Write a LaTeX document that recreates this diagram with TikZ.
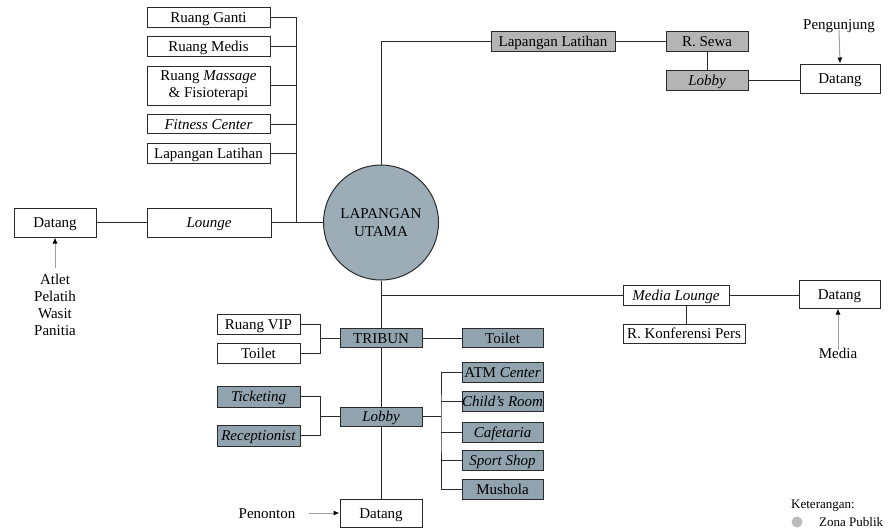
\documentclass[tikz,border=0pt]{standalone}
\usepackage{fontspec}
\setmainfont{Liberation Serif}
\usetikzlibrary{arrows.meta}
\definecolor{grayfill}{HTML}{B4B4B4}
\definecolor{bluefill}{HTML}{90A3AF}
\definecolor{circfill}{HTML}{9CADB8}
\definecolor{legfill}{HTML}{BBBBBB}
\definecolor{linec}{HTML}{2A2A2A}
\tikzset{
  boxbase/.style={draw=linec, line width=1pt, fill=white, inner sep=0pt, align=center,
    font=\fontsize{15}{17}\selectfont},
  box/.style={boxbase, text height=10pt, text depth=0pt},
  gbox/.style={box, fill=grayfill},
  bbox/.style={box, fill=bluefill},
  conn/.style={draw=linec, line width=1pt},
  arr/.style={draw=gray!75, line width=1pt, -{Latex[length=6pt,width=5pt,color=black]}},
  lbl/.style={inner sep=0pt, align=center, font=\fontsize{15}{17}\selectfont},
}
\begin{document}
\begin{tikzpicture}[x=1pt,y=-1pt]
\useasboundingbox (0,0) rectangle (893,531);
% left column
\node[box, minimum width=123, minimum height=20] (ganti) at (208.5,17) {Ruang Ganti};
\node[box, minimum width=123, minimum height=20] (medis) at (208.5,46.5) {Ruang Medis};
\node[boxbase, minimum width=123, minimum height=39] (massage) at (208.5,85.5) {\raisebox{-1.5pt}{Ruang \textit{Massage}}\\[0.5pt]\raisebox{-1.5pt}{\& Fisioterapi}};
\node[box, minimum width=123, minimum height=19] (fitness) at (208.5,124) {\textit{Fitness Center}};
\node[box, minimum width=123, minimum height=20] (laplatL) at (208.5,153) {Lapangan Latihan};
\node[box, minimum width=124, minimum height=29] (lounge) at (209,222.5) {\textit{Lounge}};
\node[box, minimum width=82, minimum height=29] (datangL) at (55,222.5) {Datang};
\node[lbl] (atlet) at (55,304.5) {Atlet\\[0pt]Pelatih\\[0pt]Wasit\\[0pt]Panitia};
\coordinate (atletTop) at (55,268);
% circle
\node[circle, draw=linec, line width=1pt, fill=circfill, minimum size=115, inner sep=0pt, align=center,
  font=\fontsize{15}{18}\selectfont] (main) at (381,222.5) {LAPANGAN\\UTAMA};
% top right
\node[gbox, minimum width=124, minimum height=20] (laplatT) at (553,41) {Lapangan Latihan};
\node[gbox, minimum width=82, minimum height=20] (sewa) at (707,41) {R. Sewa};
\node[gbox, minimum width=82, minimum height=20] (lobbyT) at (707,80) {\textit{Lobby}};
\node[box, minimum width=80, minimum height=29] (datangTR) at (840,78.5) {Datang};
\node[lbl] (pengunjung) at (839,26) {Pengunjung};
% right media
\node[box, minimum width=106, minimum height=20] (mediaL) at (676,295) {\textit{Media Lounge}};
\node[box, minimum width=81, minimum height=28] (datangR) at (839.5,294) {Datang};
\node[box, minimum width=122, minimum height=19] (konf) at (684,333.5) {R. Konferensi Pers};
\node[lbl] (media) at (838,353) {Media};
% tribun area
\node[box, minimum width=83, minimum height=20] (vip) at (258.5,324) {Ruang VIP};
\node[box, minimum width=83, minimum height=20] (toiletL) at (258.5,353) {Toilet};
\node[bbox, minimum width=82, minimum height=19] (tribun) at (381,338) {TRIBUN};
\node[bbox, minimum width=81, minimum height=19] (toiletR) at (502.5,338) {Toilet};
\node[bbox, minimum width=81, minimum height=20] (atm) at (502.5,372.5) {ATM \textit{Center}};
\node[bbox, minimum width=81, minimum height=20] (child) at (502.5,401.5) {\textit{Child's Room}};
\node[bbox, minimum width=81, minimum height=20] (cafe) at (502.5,432) {\textit{Cafetaria}};
\node[bbox, minimum width=81, minimum height=20] (sport) at (502.5,460) {\textit{Sport Shop}};
\node[bbox, minimum width=81, minimum height=20] (mushola) at (502.5,489.5) {Mushola};
\node[bbox, minimum width=82, minimum height=19] (lobbyB) at (381,416.5) {\textit{Lobby}};
\node[bbox, minimum width=83, minimum height=21] (ticket) at (258.5,396.5) {\textit{Ticketing}};
\node[bbox, minimum width=83, minimum height=21] (recep) at (258.5,435.5) {\textit{Receptionist}};
\node[box, minimum width=82, minimum height=28] (datangB) at (381,513) {Datang};
\node[lbl] (penonton) at (267,514) {Penonton};
\coordinate (penR) at (309,513);
% legend
\node[inner sep=0pt, anchor=west, font=\fontsize{13}{15}\selectfont] (ket) at (791,505.5) {Keterangan:};
\node[circle, fill=legfill, minimum size=11, inner sep=0pt] (legdot) at (797,522) {};
\node[inner sep=0pt, anchor=west, font=\fontsize{13}{15}\selectfont] (zona) at (819,522) {Zona Publik};
% junctions
\coordinate (jL) at (296,222.5);
\coordinate (jT) at (320,338);
\coordinate (jLb) at (320,416.5);
\coordinate (jR) at (441,416.5);
% connectors left
\draw[conn] (ganti.east) -| (jL);
\draw[conn] (medis.east) -- (medis.east -| jL);
\draw[conn] (massage.east) -- (massage.east -| jL);
\draw[conn] (fitness.east) -- (fitness.east -| jL);
\draw[conn] (laplatL.east) -- (laplatL.east -| jL);
\draw[conn] (lounge.east) -- (main.west);
\draw[conn] (datangL.east) -- (lounge.west);
\draw[arr] (atletTop) -- (datangL.south);
% top
\draw[conn] (main.north) |- (laplatT.west);
\draw[conn] (laplatT.east) -- (sewa.west);
\draw[conn] (sewa.south) -- (lobbyT.north);
\draw[conn] (lobbyT.east) -- (lobbyT.east -| datangTR.west);
\draw[arr] ([yshift=3pt]pengunjung.south) -- (datangTR.north);
% media
\draw[conn] (main.south |- mediaL.west) -- (mediaL.west);
\draw[conn] (mediaL.east) -- (mediaL.east -| datangR.west);
\draw[conn] ([xshift=2pt]konf.north) -- ([xshift=2pt]konf.north |- mediaL.south);
\draw[arr] ([yshift=-2pt]media.north) -- (media.north |- datangR.south);
% main spine
\draw[conn] (main.south) -- (tribun.north);
\draw[conn] (tribun.south) -- (lobbyB.north);
\draw[conn] (lobbyB.south) -- (datangB.north);
% tribun bracket
\draw[conn] (vip.east) -| (jT);
\draw[conn] (toiletL.east) -| (jT);
\draw[conn] (jT) -- (tribun.west);
\draw[conn] (tribun.east) -- (toiletR.west);
% lobby brackets
\draw[conn] (ticket.east) -| (jLb);
\draw[conn] (recep.east) -| (jLb);
\draw[conn] (jLb) -- (lobbyB.west);
\draw[conn] (lobbyB.east) -- (jR);
\draw[conn] (atm.west) -| (jR) |- (mushola.west);
\draw[conn] (child.west) -- (child.west -| jR);
\draw[conn] (cafe.west) -- (cafe.west -| jR);
\draw[conn] (sport.west) -- (sport.west -| jR);
\draw[arr] (penR) -- (datangB.west);
\end{tikzpicture}
\end{document}
